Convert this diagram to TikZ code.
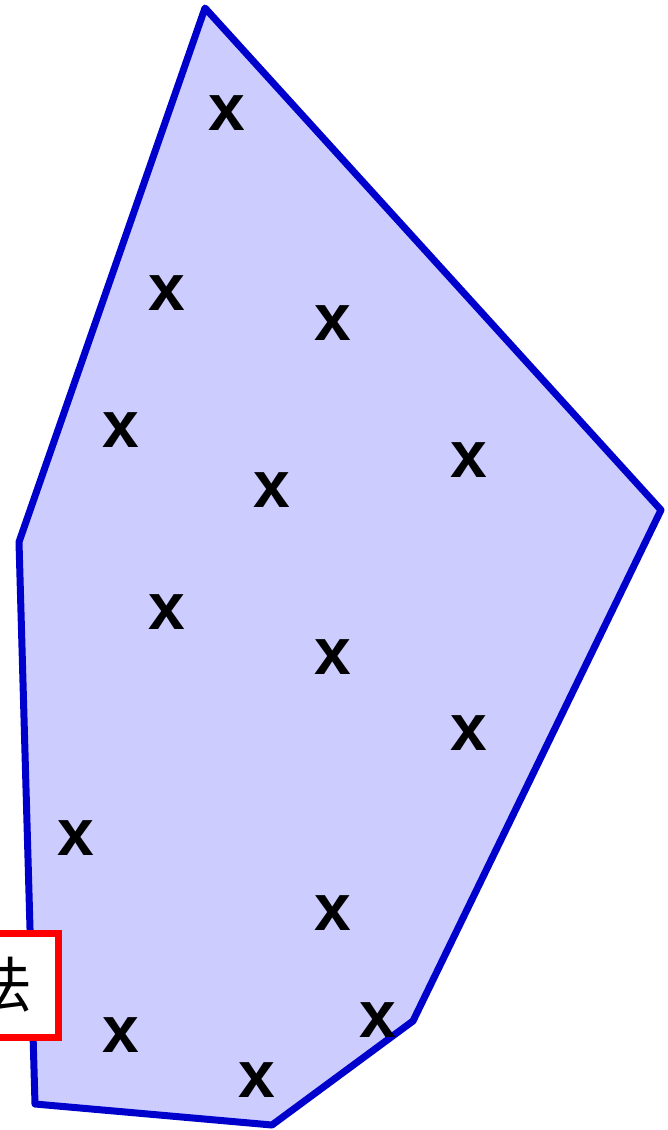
\documentclass[tikz,border=0pt]{standalone}
\usepackage{fontspec}
\setmainfont{Liberation Sans}
\newfontfamily\cjk{Noto Sans CJK SC}
\definecolor{hullblue}{RGB}{0,0,204}
\definecolor{hullfill}{RGB}{204,204,255}
\definecolor{boxred}{RGB}{255,0,0}
\tikzset{
  hull/.style={draw=hullblue, fill=hullfill, line width=7pt, line join=round},
  xmark/.style={inner sep=0pt, font=\fontsize{66}{66}\selectfont\bfseries},
  labelbox/.style={draw=boxred, fill=white, line width=7pt}
}
\begin{document}
\begin{tikzpicture}[x=1pt,y=-1pt]
\useasboundingbox (0,0) rectangle (668,1130);
\begin{scope}
\clip (0,0) rectangle (668,1130);
\coordinate (p1) at (205,8);
\coordinate (p2) at (661,510);
\coordinate (p3) at (413,1021);
\coordinate (p4) at (272,1125);
\coordinate (p5) at (35,1104);
\coordinate (p6) at (19,542);
\draw[hull] (p1) -- (p2) -- (p3) -- (p4) -- (p5) -- (p6) -- cycle;
\node[xmark] (x1) at (227,113) {x};
\node[xmark] (x2) at (167,293) {x};
\node[xmark] (x3) at (333,323) {x};
\node[xmark] (x4) at (121,430) {x};
\node[xmark] (x5) at (469,460) {x};
\node[xmark] (x6) at (272,490) {x};
\node[xmark] (x7) at (167,612) {x};
\node[xmark] (x8) at (333,657) {x};
\node[xmark] (x9) at (469,733) {x};
\node[xmark] (x10) at (76,838) {x};
\node[xmark] (x11) at (333,913) {x};
\node[xmark] (x12) at (121,1035) {x};
\node[xmark] (x13) at (378,1020) {x};
\node[xmark] (x14) at (257,1080) {x};
\draw[labelbox] (-60,933) rectangle (58.5,1037);
\node[anchor=east, inner sep=0pt, font=\cjk\fontsize{60}{60}\selectfont] (lab) at (33,985) {法};
\end{scope}
\end{tikzpicture}
\end{document}
